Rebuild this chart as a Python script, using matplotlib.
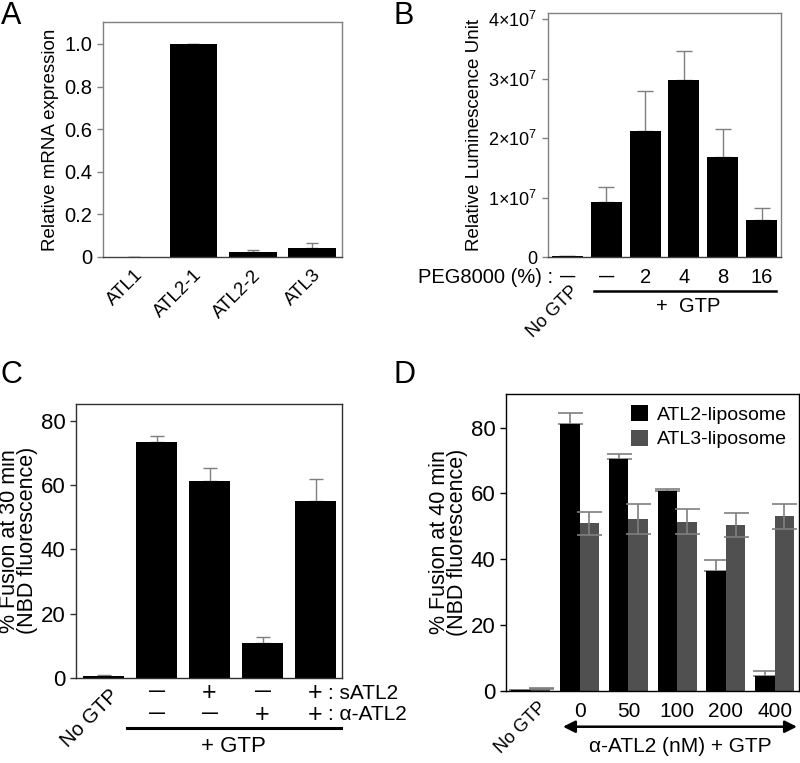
import matplotlib
matplotlib.use("Agg")
import matplotlib.pyplot as plt
import numpy as np
from matplotlib.ticker import FixedLocator, FixedFormatter
import matplotlib.transforms as mtrans

plt.rcParams['font.family'] = ['Liberation Sans', 'DejaVu Sans']
plt.rcParams['mathtext.fontset'] = 'custom'
plt.rcParams['mathtext.rm'] = 'Liberation Sans'
plt.rcParams['mathtext.it'] = 'Liberation Sans'

# ---------------- data ----------------
a_labels = ["ATL1", "ATL2-1", "ATL2-2", "ATL3"]
a_values = [0.002, 1.0, 0.022, 0.043]
a_err = [0.0, 0.002, 0.010, 0.021]

b_peg = ["–", "–", "2", "4", "8", "16"]
b_values = [0.01e7, 0.925e7, 2.115e7, 2.98e7, 1.69e7, 0.62e7]
b_err = [0.0, 0.245e7, 0.675e7, 0.49e7, 0.47e7, 0.21e7]
b_yticks = [0, 1e7, 2e7, 3e7, 4e7]
b_yticklabels = ["0", r"$1{\times}10^{7}$", r"$2{\times}10^{7}$", r"$3{\times}10^{7}$", r"$4{\times}10^{7}$"]

c_values = [0.5, 73.6, 61.2, 10.7, 55.1]
c_err = [0.2, 1.8, 4.2, 2.1, 6.8]
c_satl2 = ["–", "+", "–", "+"]
c_aatl2 = ["–", "–", "+", "+"]

d_groups = ["No GTP", "0", "50", "100", "200", "400"]
d_atl2 = [0.3, 81.0, 70.3, 60.7, 36.5, 4.4]
d_atl2_err = [0.0, 3.3, 1.7, 0.5, 3.1, 1.5]
d_atl3 = [0.6, 50.9, 52.2, 51.4, 50.4, 53.0]
d_atl3_err = [0.1, 3.5, 4.5, 3.7, 3.7, 3.8]

ERR = "#7f7f7f"
GRAY_BAR = "#505050"

fig = plt.figure(figsize=(8.0, 7.63), dpi=100)

def style_axes(ax, frame_color, lw=1.0):
    for s in ax.spines.values():
        s.set_color(frame_color)
        s.set_linewidth(lw)
    ax.tick_params(axis='y', direction='out', length=4, width=1, color=frame_color)

def dash(ax, x, y, tr, size):
    ax.text(x, y, "—", transform=tr, ha='center', va='center', fontsize=size, fontweight='bold')

# ---------------- Panel A ----------------
axA = fig.add_axes([103/800, 1-257/763, 239/800, 235/763])
xa = np.arange(len(a_values))
axA.bar(xa, a_values, width=0.8, color='black', zorder=2)
axA.errorbar(xa, a_values, yerr=[np.zeros(len(a_err)), a_err], fmt='none',
             ecolor=ERR, elinewidth=1, capsize=4, capthick=1, zorder=1)
axA.set_xlim(-0.52, 3.5)
axA.set_ylim(0, 1.103)
axA.yaxis.set_major_locator(FixedLocator([0, 0.2, 0.4, 0.6, 0.8, 1.0]))
axA.yaxis.set_major_formatter(FixedFormatter(["0", "0.2", "0.4", "0.6", "0.8", "1.0"]))
axA.set_xticks(xa)
axA.set_xticklabels(a_labels, rotation=45, ha='right', rotation_mode='anchor', fontsize=13.5)
axA.tick_params(axis='x', length=0, pad=7)
axA.tick_params(axis='y', labelsize=14.5)
axA.set_ylabel("Relative mRNA expression", fontsize=13.5, labelpad=4)
style_axes(axA, "#808080")
axA.spines['bottom'].set_color("#404040")

# ---------------- Panel B ----------------
axB = fig.add_axes([548/800, 1-257/763, 233/800, 244/763])
xb = np.arange(len(b_values))
axB.bar(xb, b_values, width=0.8, color='black', zorder=2)
axB.errorbar(xb, b_values, yerr=[np.zeros(len(b_err)), b_err], fmt='none',
             ecolor=ERR, elinewidth=1, capsize=6, capthick=1, zorder=1)
axB.set_xlim(-0.5, 5.5)
axB.set_ylim(0, 4.106e7)
axB.yaxis.set_major_locator(FixedLocator(b_yticks))
axB.yaxis.set_major_formatter(FixedFormatter(b_yticklabels))
axB.tick_params(axis='y', labelsize=13)
axB.set_xticks([])
axB.set_ylabel("Relative Luminescence Unit", fontsize=13.5, labelpad=4)
style_axes(axB, "#808080")
axB.spines['bottom'].set_color("#404040")
trB = mtrans.blended_transform_factory(axB.transData, axB.transAxes)
for xi, lab in zip(xb, b_peg):
    if lab == "–":
        dash(axB, xi, -0.08, trB, 11)
    else:
        axB.text(xi, -0.082, lab, transform=trB, ha='center', va='center', fontsize=14.5)
axB.text(-0.38, -0.082, "PEG8000 (%) :", transform=trB, ha='right', va='center', fontsize=14.5)
axB.plot([0.197, 0.979], [-0.139, -0.139], transform=axB.transAxes, color='black', lw=1.8, clip_on=False)
axB.text(0.601, -0.204, "+  GTP", transform=axB.transAxes, ha='center', va='center', fontsize=14.5)
axB.text(0.05, -0.105, "No GTP", transform=trB, rotation=45, ha='right', va='top',
         rotation_mode='anchor', fontsize=13)

# ---------------- Panel C ----------------
axC = fig.add_axes([76/800, 1-677.7/763, 266/800, 273.7/763])
xc = np.arange(len(c_values))
axC.bar(xc, c_values, width=0.78, color='black', zorder=2)
axC.errorbar(xc, c_values, yerr=[np.zeros(len(c_err)), c_err], fmt='none',
             ecolor=ERR, elinewidth=1, capsize=5, capthick=1, zorder=1)
axC.set_xlim(-0.52, 4.5)
axC.set_ylim(0, 85.3)
axC.yaxis.set_major_locator(FixedLocator([0, 20, 40, 60, 80]))
axC.tick_params(axis='y', labelsize=16)
axC.set_xticks([])
axC.set_ylabel("% Fusion at 30 min\n(NBD fluorescence)", fontsize=15.5, linespacing=0.8, labelpad=2)
style_axes(axC, "#303030")
trC = mtrans.blended_transform_factory(axC.transData, axC.transAxes)
for xi, s1, s2 in zip(xc[1:], c_satl2, c_aatl2):
    for yy, s in ((-0.056, s1), (-0.136, s2)):
        if s == "+":
            axC.text(xi, yy, "+", transform=trC, ha='center', va='center', fontsize=18)
        else:
            dash(axC, xi, yy + 0.004, trC, 11.5)
axC.text(xc[-1] + 0.24, -0.056, ": sATL2", transform=trC, ha='left', va='center', fontsize=15, clip_on=False)
axC.text(xc[-1] + 0.24, -0.136, ": α-ATL2", transform=trC, ha='left', va='center', fontsize=15, clip_on=False)
axC.plot([0.191, 0.996], [-0.183, -0.183], transform=axC.transAxes, color='black', lw=2.2, clip_on=False)
axC.text(0.59, -0.252, "+ GTP", transform=axC.transAxes, ha='center', va='center', fontsize=16)
axC.text(0.1, -0.03, "No GTP", transform=trC, rotation=45, ha='right', va='top',
         rotation_mode='anchor', fontsize=14.5)

# ---------------- Panel D ----------------
axD = fig.add_axes([506/800, 1-690.7/763, 293/800, 296.4/763])
xd = np.arange(len(d_groups))
w = 0.4
axD.bar(xd - w/2, d_atl2, width=w, color='black', label="ATL2-liposome", zorder=2)
axD.bar(xd + w/2, d_atl3, width=w, color=GRAY_BAR, label="ATL3-liposome", zorder=2)
axD.errorbar(xd - w/2, d_atl2, yerr=[np.zeros(len(d_atl2_err)), d_atl2_err], fmt='none',
             ecolor=ERR, elinewidth=1.2, capsize=9, capthick=1.2, zorder=1)
axD.errorbar(xd + w/2, d_atl3, yerr=d_atl3_err, fmt='none',
             ecolor=ERR, elinewidth=1.2, capsize=9, capthick=1.2, zorder=3)
axD.set_xlim(-0.51, 5.5)
axD.set_ylim(0, 90.1)
axD.yaxis.set_major_locator(FixedLocator([0, 20, 40, 60, 80]))
axD.tick_params(axis='y', labelsize=16)
axD.set_xticks(xd[1:])
axD.set_xticklabels(d_groups[1:], fontsize=15)
axD.tick_params(axis='x', length=0, pad=8)
axD.set_ylabel("% Fusion at 40 min\n(NBD fluorescence)", fontsize=15.5, linespacing=0.8, labelpad=2)
style_axes(axD, "black")
trD = mtrans.blended_transform_factory(axD.transData, axD.transAxes)
axD.text(0.15, -0.028, d_groups[0], transform=trD, rotation=45, ha='right', va='top',
         rotation_mode='anchor', fontsize=13)
axD.annotate("", xy=(0.993, -0.1215), xytext=(0.1945, -0.1215), xycoords='axes fraction',
             textcoords='axes fraction',
             arrowprops=dict(arrowstyle='<|-|>', color='black', lw=1.8, mutation_scale=18,
                             shrinkA=0, shrinkB=0))
axD.text(0.596, -0.189, "α-ATL2 (nM) + GTP", transform=axD.transAxes, ha='center', va='center', fontsize=15)
axD.legend(loc='upper right', bbox_to_anchor=(0.985, 0.99), frameon=False, fontsize=14,
           handlelength=0.9, handleheight=0.9, handletextpad=0.45, labelspacing=0.3, borderaxespad=0)

# ---------------- Panel letters ----------------
for lab, x, y in (("A", 1, 1), ("B", 393, 1), ("C", 0, 360), ("D", 394, 360)):
    fig.text(x/800, 1 - y/763, lab, fontsize=22, ha='left', va='top')

fig.savefig("out.png", dpi=100)
